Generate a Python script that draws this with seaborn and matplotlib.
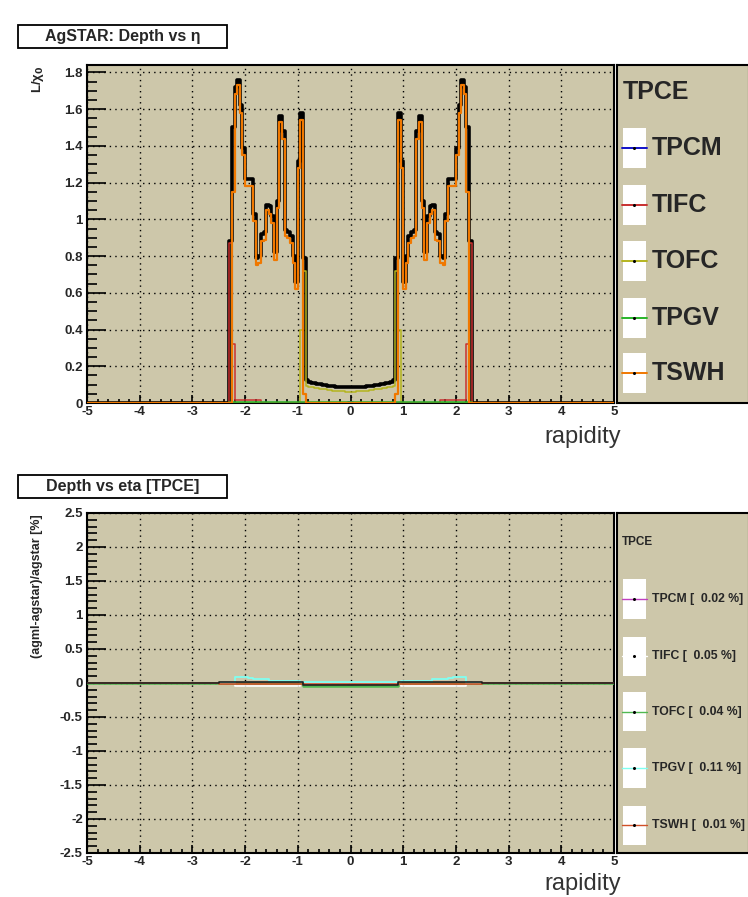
"""
AgSTAR vs AgML material budget of the TPC (TPCE) -- depth vs eta
"""

import numpy as np
import matplotlib
matplotlib.use('Agg')
import matplotlib.pyplot as plt
import matplotlib.ticker as mticker
from matplotlib.patches import Rectangle
import seaborn as sns

# ── Style ──────────────────────────────────────────────────────────────────
sns.set_theme(style='white')
plt.rcParams['font.family'] = ['Liberation Sans', 'DejaVu Sans']
plt.rcParams['axes.linewidth'] = 1.5

PANEL = '#cdc7aa'

# ── Data (positive-eta half, bins of 0.05 from 0 to 2.5; mirrored) ─────────
BIN = 0.05

# top panel: L/X0 per component
tpce = [0.085, 0.085, 0.086, 0.087, 0.088, 0.089, 0.091, 0.093, 0.095, 0.097,
        0.099, 0.102, 0.105, 0.108, 0.111, 0.115, 0.125, 0.79, 1.58, 1.32,
        0.66, 0.80, 0.91, 0.93, 0.94, 1.48, 1.56, 1.10, 0.82, 1.02,
        1.07, 1.08, 0.93, 0.92, 0.80, 0.79, 1.03, 1.22, 1.22, 1.22,
        1.39, 1.62, 1.76, 1.72, 1.50, 0.88, 0.0, 0.0, 0.0, 0.0]
tpcm = [0.003] + [0.0] * 49
tifc = [0.0] * 34 + [0.016] * 10 + [0.32, 0.87, 0.0, 0.0, 0.0, 0.0]
tofc = [0.062, 0.062, 0.063, 0.064, 0.065, 0.066, 0.068, 0.070, 0.072, 0.074,
        0.076, 0.078, 0.080, 0.083, 0.086, 0.089, 0.095, 0.72, 0.40] + [0.0] * 31
tpgv = [0.006] * 46 + [0.0] * 4
tswh = [0.0] * 17 + [0.05, 1.54, 1.28,
        0.62, 0.76, 0.87, 0.90, 0.91, 1.44, 1.53, 1.06, 0.78, 0.98,
        1.03, 1.05, 0.89, 0.88, 0.76, 0.75, 0.99, 1.18, 1.18, 1.18,
        1.35, 1.58, 1.73, 1.68, 1.15, 0.0, 0.0, 0.0, 0.0, 0.0]

# bottom panel: (agml-agstar)/agstar [%]
tpce_d = [-0.035] * 18 + [0.01] * 32
tpcm_d = [-0.03] + [0.0] * 49
tifc_d = [0.0] * 19 + [-0.05] * 25 + [0.0] * 6
tofc_d = [-0.04] * 18 + [0.0] * 32
tpgv_d = [0.01] * 19 + [0.025] * 12 + [0.058] * 6 + [0.075] * 2 + [0.095] * 5 + [0.0] * 6
tswh_d = [-0.012] * 50

top_labels = ['TPCM', 'TIFC', 'TOFC', 'TPGV', 'TSWH']
top_colors = ['#1010c8', '#c83030', '#b4b41e', '#28b428', '#f07800']
bot_labels = ['TPCM [  0.02 %]', 'TIFC [  0.05 %]', 'TOFC [  0.04 %]',
              'TPGV [  0.11 %]', 'TSWH [  0.01 %]']
bot_colors = ['#c040c0', '#ffffff', '#50b850', '#80fff0', '#d05028']

edges = np.round(np.arange(-5, 5 + BIN / 2, BIN), 3)


def full_profile(half):
    half = np.asarray(half, float)
    full = np.zeros(len(edges) - 1)
    mid = len(full) // 2
    full[mid:mid + len(half)] = half
    full[mid - len(half):mid] = half[::-1]
    return np.append(full, full[-1])


def step(ax, half, color, lw, z):
    sns.lineplot(x=edges, y=full_profile(half), color=color, lw=lw,
                 drawstyle='steps-post', estimator=None, ax=ax, zorder=z)


def style_axes(ax, ymaj, ymin):
    ax.set_facecolor(PANEL)
    ax.set_xlim(-5, 5)
    ax.xaxis.set_major_locator(mticker.MultipleLocator(1))
    ax.xaxis.set_minor_locator(mticker.MultipleLocator(0.2))
    ax.yaxis.set_major_locator(mticker.MultipleLocator(ymaj))
    ax.yaxis.set_minor_locator(mticker.MultipleLocator(ymin))
    fmt = mticker.FuncFormatter(lambda v, p: '%g' % round(v, 3))
    ax.xaxis.set_major_formatter(fmt)
    ax.yaxis.set_major_formatter(fmt)
    ax.tick_params(which='both', direction='in', color='black', width=1.2,
                   top=False, right=False, left=True, bottom=True)
    ax.tick_params(axis='y', which='major', length=14, pad=3)
    ax.tick_params(axis='y', which='minor', length=7)
    ax.tick_params(axis='x', which='major', length=6, pad=2)
    ax.tick_params(axis='x', which='minor', length=3)
    for lab in ax.get_xticklabels() + ax.get_yticklabels():
        lab.set_fontweight('bold')
        lab.set_fontsize(9.5)
    ax.grid(True, which='major', color='black', lw=1, linestyle=(0, (1, 3)))
    for s in ax.spines.values():
        s.set_color('black')
        s.set_linewidth(1.5)
    ax.set_xlabel('')
    ax.set_ylabel('')


def draw_legend(lax, header, hsize, labels, colors, ys, box_h, lsize, lw):
    lax.set_facecolor(PANEL)
    lax.set_xticks([])
    lax.set_yticks([])
    lax.set_xlim(0, 1)
    lax.set_ylim(0, 1)
    for s in lax.spines.values():
        s.set_color('black')
        s.set_linewidth(1.5)
    lax.text(0.04, ys[0], header, fontsize=hsize, fontweight='bold',
             va='center', ha='left')
    for lab, col, y in zip(labels, colors, ys[1:]):
        lax.add_patch(Rectangle((0.044, y - box_h / 2), 0.177, box_h,
                                fc='white', ec='none'))
        lax.plot([0.036, 0.229], [y, y], color=col, lw=lw)
        lax.plot([0.13], [y], marker='o', ms=1.2, color='black')
        lax.text(0.262, y, lab, fontsize=lsize, fontweight='bold',
                 va='center', ha='left')


fig = plt.figure(figsize=(7.48, 8.97), dpi=100)

# ── Top panel: depth vs eta ────────────────────────────────────────────────
ax1 = fig.add_axes([0.1163, 0.5507, 0.7046, 0.3768])
step(ax1, tpce, 'black', 2.6, 2)
for half, col, z in zip([tpcm, tifc, tofc, tpgv], top_colors[:4], [3, 4, 3, 5]):
    step(ax1, half, col, 1.1, z)
step(ax1, tswh, top_colors[4], 1.6, 6)
ax1.set_ylim(0, 1.84)
style_axes(ax1, 0.2, 0.05)

lax1 = fig.add_axes([0.8249, 0.5507, 0.176, 0.3768])
draw_legend(lax1, 'TPCE', 18, top_labels, top_colors,
            [0.919, 0.754, 0.586, 0.420, 0.251, 0.089], 0.118, 18, 1.4)

# ── Bottom panel: relative difference ─────────────────────────────────────
ax2 = fig.add_axes([0.1163, 0.0491, 0.7046, 0.3790])
step(ax2, tpcm_d, bot_colors[0], 1.2, 2)
step(ax2, tifc_d, bot_colors[1], 1.2, 2)
step(ax2, tofc_d, bot_colors[2], 1.8, 3)
step(ax2, tpgv_d, bot_colors[3], 1.3, 4)
step(ax2, tswh_d, bot_colors[4], 1.2, 5)
step(ax2, tpce_d, '#202020', 1.2, 6)
ax2.set_ylim(-2.5, 2.5)
style_axes(ax2, 0.5, 0.1)

lax2 = fig.add_axes([0.8249, 0.0491, 0.176, 0.3790])
draw_legend(lax2, 'TPCE', 8.5, bot_labels, bot_colors,
            [0.915, 0.747, 0.579, 0.415, 0.250, 0.082], 0.115, 8.8, 1.0)

# ── Titles and axis labels ────────────────────────────────────────────────
for y0, txt in [(0.9465, 'AgSTAR: Depth vs η'), (0.4448, 'Depth vs eta [TPCE]')]:
    fig.add_artist(Rectangle((0.024, y0), 0.279, 0.0256, transform=fig.transFigure,
                             fc='white', ec='black', lw=1.3))
    fig.text(0.1635, y0 + 0.0128, txt, fontsize=11.5, fontweight='bold',
             ha='center', va='center')

fig.text(0.051, 0.9275, r'L/χ$_\mathbf{0}$', rotation=90, fontsize=9.5,
         fontweight='bold', ha='center', va='top')
fig.text(0.049, 0.4265, '(agml-agstar)/agstar [%]', rotation=90, fontsize=9,
         fontweight='bold', ha='center', va='top')
for y0 in [0.5128, 0.0150]:
    fig.text(0.830, y0, 'rapidity', fontsize=17, color='#333333',
             ha='right', va='center')

plt.savefig('out.png', dpi=100)
plt.close()
